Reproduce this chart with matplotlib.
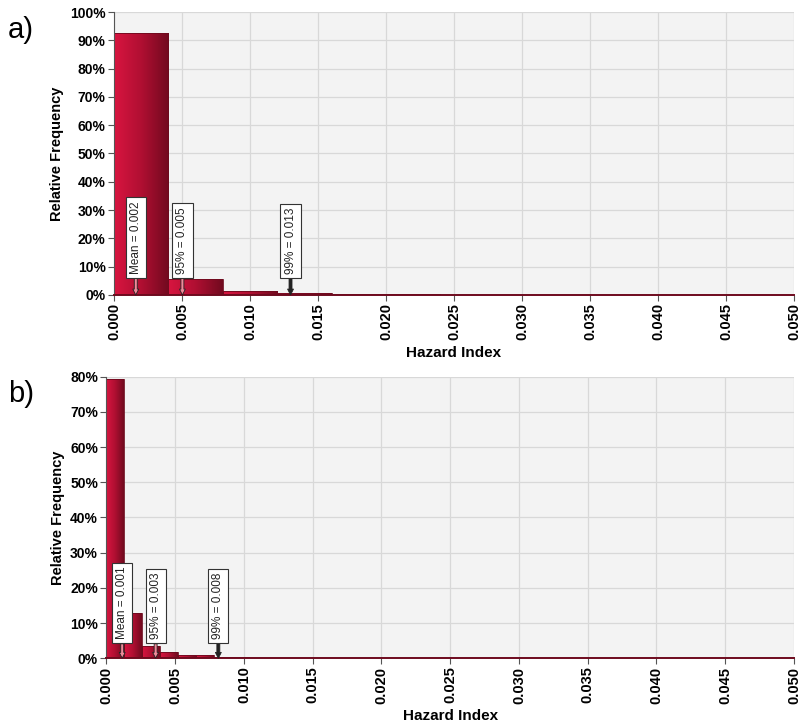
#import libraries
import numpy as np
import matplotlib.pyplot as plt
from matplotlib.colors import LinearSegmentedColormap

plt.rcParams['font.family'] = ['Liberation Sans', 'DejaVu Sans']

# panel a) histogram data (bin width 0.004)
a_width = 0.004
a_freq = [92.6, 5.6, 1.3, 0.55, 0.45, 0.2, 0.1, 0.08, 0.06, 0.05, 0.04, 0.03, 0.03]
a_marks = [0.0016, 0.00503, 0.01298]
a_labels = ['Mean = 0.002', '95% = 0.005', '99% = 0.013']

# panel b) histogram data (bin width 0.0013)
b_width = 0.0013
b_freq = [79.3, 12.9, 3.5, 1.7, 0.85, 0.8, 0.45, 0.4, 0.15, 0.1, 0.08, 0.06, 0.05,
          0.05, 0.04, 0.04, 0.03, 0.03, 0.03, 0.02, 0.02, 0.02, 0.02, 0.02, 0.02,
          0.02, 0.02, 0.02, 0.02, 0.02, 0.02, 0.02, 0.02, 0.02, 0.02, 0.02, 0.02,
          0.02, 0.02]
b_marks = [0.00115, 0.00358, 0.00814]
b_labels = ['Mean = 0.001', '95% = 0.003', '99% = 0.008']

xticks = np.arange(0, 0.0501, 0.005)
cmap = LinearSegmentedColormap.from_list('bar', ['#d81540', '#b00f32', '#720a1f'])
grad = np.linspace(0, 1, 64).reshape(1, -1)


def draw_panel(ax, width, freq, marks, labels, ymax, box_bottom, tag):
    ax.set_facecolor('#f3f3f3')
    ax.grid(True, color='#d8d8d8', lw=0.9)
    ax.set_axisbelow(True)
    lefts = np.arange(len(freq)) * width
    bars = ax.bar(lefts, freq, width=width, align='edge', color='none',
                  edgecolor='#6e0a1e', lw=0.6, zorder=2)
    for b in bars:
        x0, y0 = b.get_x(), b.get_y()
        im = ax.imshow(grad, extent=[x0, x0 + b.get_width(), y0, y0 + b.get_height()],
                       cmap=cmap, aspect='auto', zorder=1.5)
        im.set_clip_path(b)
    ax.set_xlim(0, 0.05)
    ax.set_ylim(0, ymax)
    ax.set_xticks(xticks)
    ax.set_xticklabels(['%.3f' % t for t in xticks], rotation=90, fontweight='bold', fontsize=10.5)
    yt = np.arange(0, ymax + 1, 10)
    ax.set_yticks(yt)
    ax.set_yticklabels(['%d%%' % v for v in yt], fontweight='bold', fontsize=10)
    ax.tick_params(length=4, color='#555555', pad=2)
    for s in ['top', 'right']:
        ax.spines[s].set_visible(False)
    ax.spines['left'].set_color('#555555')
    ax.spines['bottom'].set_color('#6e0a1e')
    ax.spines['bottom'].set_linewidth(1.4)
    ax.set_ylabel('Relative Frequency', fontweight='bold', fontsize=10.5)
    ax.set_xlabel('Hazard Index', fontweight='bold', fontsize=11, labelpad=4)
    arrow_cols = ['#f08a9a', '#f08a9a', '#222222']
    for m, lab, c in zip(marks, labels, arrow_cols):
        ax.annotate(lab, xy=(m, 0), xytext=(m, box_bottom), rotation=90,
                    ha='center', va='bottom', fontsize=8.5, color='#222222',
                    bbox=dict(boxstyle='square,pad=0.35', fc='white', ec='#333333', lw=0.8),
                    arrowprops=dict(arrowstyle='simple,head_width=0.5,head_length=0.5,tail_width=0.25',
                                    fc=c, ec='#222222', lw=0.6, shrinkA=0, shrinkB=0),
                    zorder=5)
    ax.figure.text(0.01, ax.get_position().y1 - 0.005, tag, fontsize=21, va='top')


#create the figure
fig = plt.figure(figsize=(8, 7.23), dpi=100)
ax1 = fig.add_axes([0.1425, 0.592, 0.85, 0.3914])
ax2 = fig.add_axes([0.133, 0.0895, 0.8595, 0.3895])
draw_panel(ax1, a_width, a_freq, a_marks, a_labels, 100, 7.4, 'a)')
draw_panel(ax2, b_width, b_freq, b_marks, b_labels, 80, 5.4, 'b)')
fig.savefig('out.png', dpi=100)
